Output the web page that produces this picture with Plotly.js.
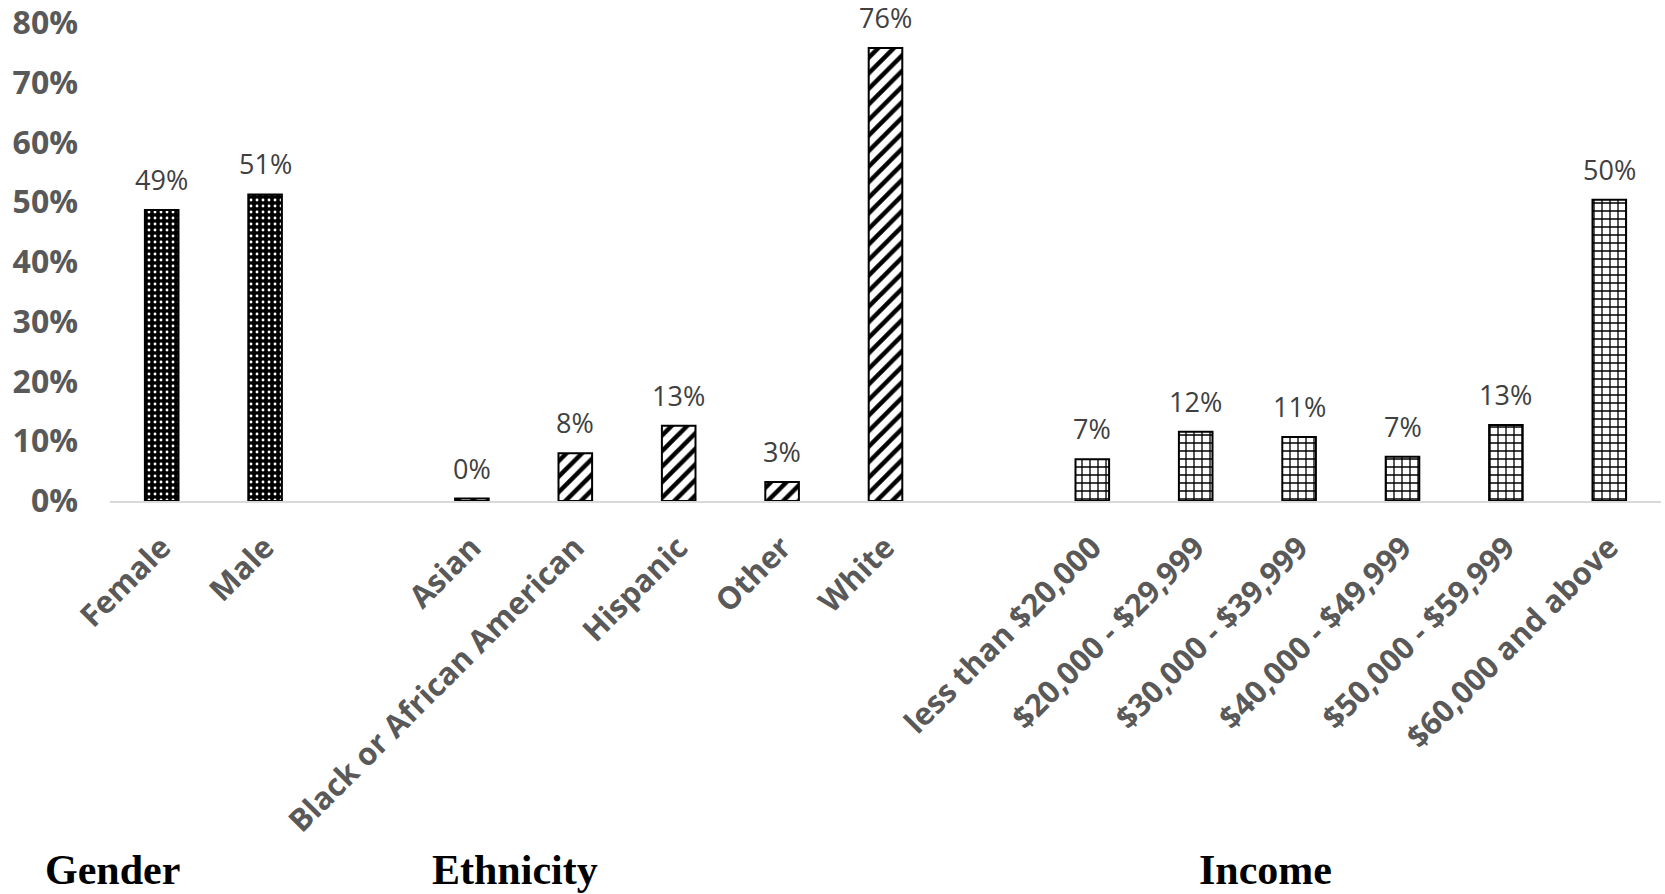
<!DOCTYPE html>
<html>
<head>
<meta charset="utf-8">
<script src="https://cdn.plot.ly/plotly-3.0.1.min.js"></script>
<style>html,body{margin:0;padding:0;background:#fff;}#chart{width:1665px;height:894px;}</style>
</head>
<body>
<div id="chart"></div>
<script>
// ---- data ----
const genderCats = ["Female", "Male"];
const genderVals = [0.487, 0.513];
const ethnicityCats = ["Asian", "Black or African American", "Hispanic", "Other", "White"];
const ethnicityVals = [0.004, 0.080, 0.126, 0.032, 0.758];
const incomeCats = ["less than $20,000", "$20,000 - $29,999", "$30,000 - $39,999", "$40,000 - $49,999", "$50,000 - $59,999", "$60,000 and above"];
const incomeVals = [0.070, 0.116, 0.107, 0.074, 0.127, 0.504];
const groupTitles = ["Gender", "Ethnicity", "Income"];
const yTicks = [0, 0.1, 0.2, 0.3, 0.4, 0.5, 0.6, 0.7, 0.8];

// category order with blank spacer slots between groups
const gap1 = " ", gap2 = "  ";
const categoryOrder = [...genderCats, gap1, ...ethnicityCats, gap2, ...incomeCats];

const lineStyle = {color: "#000000", width: 2};

const traces = [
  {type: "bar", x: genderCats, y: genderVals,
   marker: {color: "#000000", line: lineStyle,
            pattern: {shape: ".", fgcolor: "#ffffff", bgcolor: "#000000", size: 6, solidity: 0.18, fillmode: "replace"}}},
  {type: "bar", x: ethnicityCats, y: ethnicityVals,
   marker: {color: "#ffffff", line: lineStyle,
            pattern: {shape: "/", fgcolor: "#000000", bgcolor: "#ffffff", size: 11, solidity: 0.4, fillmode: "replace"}}},
  {type: "bar", x: incomeCats, y: incomeVals,
   marker: {color: "#ffffff", line: lineStyle,
            pattern: {shape: "+", fgcolor: "#000000", bgcolor: "#ffffff", size: 8, solidity: 0.3, fillmode: "replace"}}}
];

const fmtPct = v => Math.round(v * 100) + "%";
const annotations = [];
[[genderCats, genderVals], [ethnicityCats, ethnicityVals], [incomeCats, incomeVals]].forEach(([cats, vals]) => {
  cats.forEach((c, i) => {
    annotations.push({x: c, y: vals[i], xref: "x", yref: "y", text: fmtPct(vals[i]),
      showarrow: false, yanchor: "bottom", yshift: 10,
      font: {family: "Open Sans, sans-serif", size: 27, color: "#404040"}});
  });
});

// group titles below the axis (paper coordinates)
const titleX = [-0.043, 0.206, 0.701];
groupTitles.forEach((t, i) => {
  annotations.push({text: "<b>" + t + "</b>", xref: "paper", yref: "paper", x: titleX[i], y: -0.772,
    xanchor: "left", yanchor: "middle", showarrow: false,
    font: {family: "Liberation Serif, Times New Roman, serif", size: 42, color: "#000000"}});
});

const layout = {
  width: 1665, height: 894,
  margin: {l: 110, r: 4, t: 23, b: 393},
  paper_bgcolor: "#ffffff", plot_bgcolor: "#ffffff",
  barmode: "overlay", bargap: 0.675,
  showlegend: false,
  xaxis: {type: "category", categoryorder: "array", categoryarray: categoryOrder,
    tickangle: -45, showgrid: false, zeroline: false, showline: true, linecolor: "#d9d9d9", linewidth: 2,
    ticks: "", ticklabelstandoff: 14,
    tickfont: {family: "Open Sans, sans-serif", size: 31, color: "#595959", weight: "bold"}},
  yaxis: {range: [0, 0.8], tickvals: yTicks, tickformat: ".0%", showgrid: false, zeroline: false, showline: false,
    ticks: "", ticklabelstandoff: 31,
    tickfont: {family: "Open Sans, sans-serif", size: 32, color: "#595959", weight: "bold"}},
  annotations: annotations
};

Plotly.newPlot("chart", traces, layout, {displayModeBar: false, staticPlot: true});
</script>
</body>
</html>
